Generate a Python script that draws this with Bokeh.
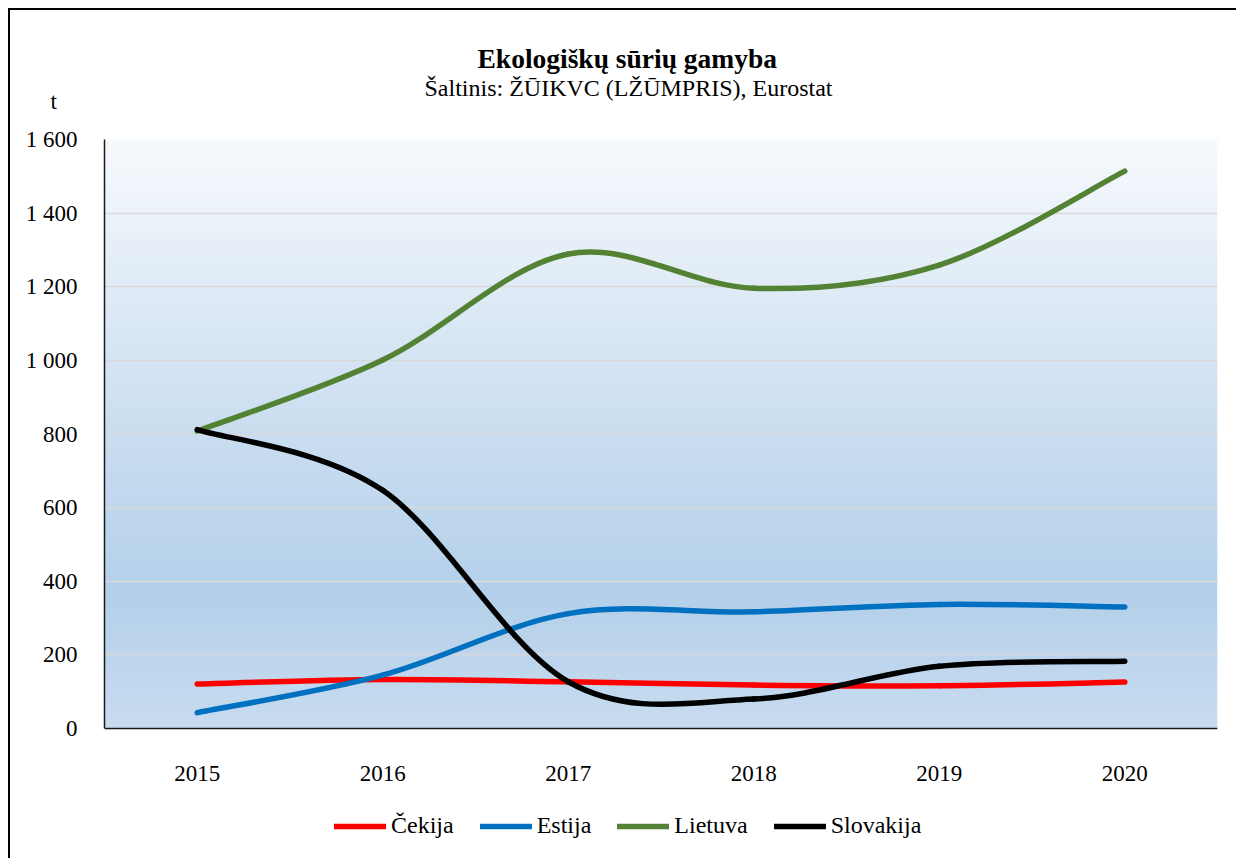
import numpy as np
from bokeh.plotting import figure
from bokeh.models import (FixedTicker, Range1d, Legend, LegendItem, ColumnDataSource, Title)
from bokeh.embed import file_html
from bokeh.resources import INLINE

# ---- data ----
years = ["2015", "2016", "2017", "2018", "2019", "2020"]
cekija = [121, 133, 127, 118, 116, 126]
estija = [43, 145, 312, 317, 337, 330]
lietuva = [808, 1001, 1289, 1196, 1259, 1514]
slovakija = [812, 647, 127, 80, 169, 183]
series_names = ["Čekija", "Estija", "Lietuva", "Slovakija"]
series_colors = ["#ff0000", "#0070c0", "#548235", "#000000"]
y_ticks = [0, 200, 400, 600, 800, 1000, 1200, 1400, 1600]

title_text = "Ekologiškų sūrių gamyba"
subtitle_text = "Šaltinis: ŽŪIKVC (LŽŪMPRIS), Eurostat"
unit_text = "t"

FONT = "Liberation Serif"

Y_MAX = 1600
FRAME_H = 719            # frame runs from the 1 600 line to the bottom of the page
PLOT_H = 589             # pixels between 0 and 1 600
y_min = -Y_MAX * (FRAME_H - PLOT_H) / PLOT_H   # room below 0 for tick labels and legend

p = figure(frame_width=1113, frame_height=FRAME_H, output_backend="svg", toolbar_location=None,
           x_range=Range1d(-0.5, 5.5), y_range=Range1d(y_min, Y_MAX),
           min_border_left=94, min_border_right=19, min_border_top=129,
           min_border_bottom=0)
p.styles = {"border-left": "2px solid black", "border-top": "2px solid black",
            "margin-left": "8px", "margin-top": "8px"}
p.outline_line_color = None
p.background_fill_color = "white"
p.border_fill_color = "white"

# gradient background in plot area (style only)
stops_t = [0.0, 0.44, 0.77, 1.0]
stops_c = [(0xf7, 0xfa, 0xfd), (0xcf, 0xe1, 0xf2), (0xb4, 0xd0, 0xea), (0xc8, 0xdc, 0xf0)]
n = 300
tt = np.linspace(1.0, 0.0, n)  # row 0 = bottom
img = np.zeros((n, 1), dtype=np.uint32)
view = img.view(dtype=np.uint8).reshape((n, 1, 4))
for k in range(3):
    view[:, 0, k] = np.interp(tt, stops_t, [c[k] for c in stops_c]).astype(np.uint8)
view[:, 0, 3] = 255
p.image_rgba(image=[img], x=-0.5, y=0, dw=6, dh=Y_MAX, level="image")

# axes
p.yaxis.ticker = FixedTicker(ticks=y_ticks)
p.yaxis.major_label_overrides = {v: f"{v:,}".replace(",", " ") for v in y_ticks}
p.yaxis.bounds = (0, Y_MAX)
p.xaxis.ticker = FixedTicker(ticks=list(range(len(years))))
p.xaxis.major_label_overrides = {i: y for i, y in enumerate(years)}
p.xaxis.fixed_location = 0
for ax in (p.xaxis, p.yaxis):
    ax.major_tick_line_color = None
    ax.minor_tick_line_color = None
    ax.axis_line_color = "#1a1a1a"
    ax.axis_line_width = 1.5
    ax.major_label_text_font = FONT
    ax.major_label_text_font_size = "23px"
    ax.major_label_text_color = "black"
p.yaxis.major_label_standoff = 21
p.xaxis.major_label_standoff = 31
p.xgrid.grid_line_color = None
p.ygrid.grid_line_color = "#d9d9d9"
p.ygrid.grid_line_width = 1.5
p.ygrid.level = "image"

# smooth curves (Excel-like Bezier smoothing)
def bez(vals):
    xs = list(range(len(vals)))
    P = list(zip(xs, vals))
    nn = len(P)
    d = dict(x0=[], y0=[], x1=[], y1=[], cx0=[], cy0=[], cx1=[], cy1=[])
    for i in range(nn - 1):
        pm = P[max(i - 1, 0)]
        p0 = P[i]
        p1 = P[i + 1]
        p2 = P[min(i + 2, nn - 1)]
        d["x0"].append(p0[0]); d["y0"].append(p0[1])
        d["x1"].append(p1[0]); d["y1"].append(p1[1])
        d["cx0"].append(p0[0] + (p1[0] - pm[0]) / 6)
        d["cy0"].append(p0[1] + (p1[1] - pm[1]) / 6)
        d["cx1"].append(p1[0] - (p2[0] - p0[0]) / 6)
        d["cy1"].append(p1[1] - (p2[1] - p0[1]) / 6)
    return ColumnDataSource(d)

items = []
for name, vals, col in zip(series_names, [cekija, estija, lietuva, slovakija], series_colors):
    r = p.bezier(x0="x0", y0="y0", x1="x1", y1="y1", cx0="cx0", cy0="cy0", cx1="cx1", cy1="cy1",
                 source=bez(vals), line_color=col, line_width=5.5, line_cap="round")
    items.append(LegendItem(label=name, renderers=[r], index=0))

legend = Legend(items=items, orientation="horizontal", location=(230, 19),
                glyph_width=52, glyph_height=22, label_standoff=5, spacing=26,
                padding=0, margin=0, border_line_color=None, background_fill_alpha=0,
                label_text_font=FONT, label_text_font_size="24px", label_text_color="black",
                label_height=22)
p.add_layout(legend, "center")

# unit label (closest to plot), then title, then subtitle
p.add_layout(Title(text=unit_text, align="left", offset=-54, standoff=52,
                   text_font=FONT, text_font_size="23px", text_font_style="normal",
                   text_color="black"), "above")
p.add_layout(Title(text=title_text, align="left", offset=373, standoff=-26,
                   text_font=FONT, text_font_size="27.5px", text_font_style="bold",
                   text_color="black"), "above")
p.add_layout(Title(text=subtitle_text, align="left", offset=320, standoff=-95,
                   text_font=FONT, text_font_size="24px", text_font_style="normal",
                   text_color="black"), "above")

open("out.html", "w").write(file_html(p, INLINE))
